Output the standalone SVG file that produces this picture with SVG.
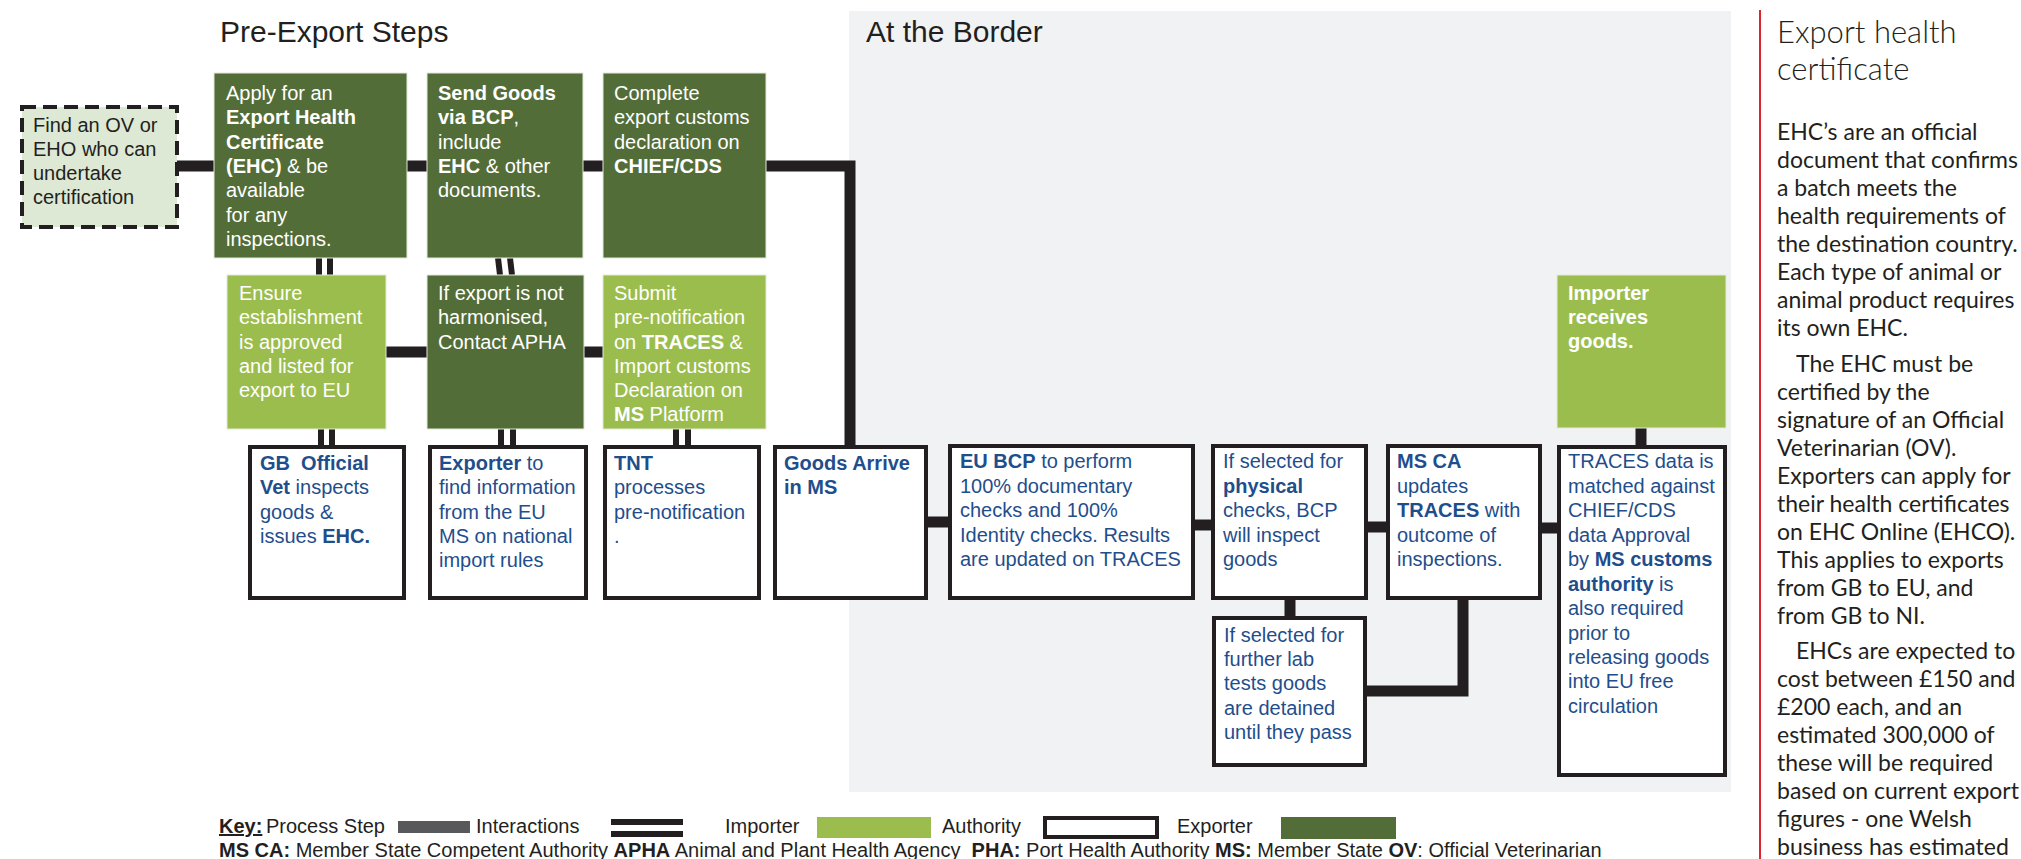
<svg xmlns="http://www.w3.org/2000/svg" width="2021" height="859" viewBox="0 0 2021 859">
<style>
.t{font-family:"Liberation Sans",Arial,sans-serif;font-size:20px}
.bd{font-weight:bold}
.wt{fill:#ffffff}
.bt{fill:#1f4e8c}
.kt{fill:#231f20}
.dg{fill:#536d38;stroke:#e3ead9;stroke-width:1}
.lg{fill:#9bbd4e;stroke:#e3ead9;stroke-width:1}
.wb{fill:#ffffff;stroke:#231f20;stroke-width:4}
.c{stroke:#231f20;stroke-width:11;fill:none}
.d{stroke:#231f20;stroke-width:6;fill:none}
.ttl{font-family:"Liberation Sans",Arial,sans-serif;font-size:30px;fill:#231f20}
.side{font-family:Lato,"Liberation Sans",sans-serif;fill:#231f20}
</style>
<rect width="2021" height="859" fill="#ffffff"/>
<rect id="border-panel" x="849" y="11" width="882" height="781" fill="#f1f2f4"/>
<text class="ttl" x="220" y="42">Pre-Export Steps</text>
<text class="ttl" x="866" y="42">At the Border</text>

<g id="connectors">
<path class="c" d="M177 166H214 M407 166H427 M583 166H603 M766 166H850V445 M386 352H427 M584 352H603 M928 522H948 M1195 525H1211 M1368 527H1386 M1542 528H1557 M1641 428V445 M1290 600V616 M1463 600V691H1366"/>
<path class="d" d="M319 258V275 M330 258V275 M498 258L500 275 M510 258L512 275 M321 429V445 M332 429V445 M501 429V445 M513 429V445 M676 429V445 M688 429V445"/>
</g>

<g id="find-ov">
<rect x="22" y="107" width="155" height="120" fill="#dde9d5" stroke="#231f20" stroke-width="4" stroke-dasharray="14 7"/>
<text class="t kt"><tspan x="33" y="132">Find an OV or</tspan><tspan x="33" y="156">EHO who can</tspan><tspan x="33" y="180">undertake</tspan><tspan x="33" y="204">certification</tspan></text>
</g>

<g id="apply-ehc">
<rect class="dg" x="214" y="73" width="193" height="185"/>
<text class="t wt"><tspan x="226" y="100">Apply for an</tspan><tspan x="226" y="124" class="bd">Export Health</tspan><tspan x="226" y="149" class="bd">Certificate</tspan><tspan x="226" y="173"><tspan class="bd">(EHC)</tspan> &amp; be</tspan><tspan x="226" y="197">available</tspan><tspan x="226" y="222">for any</tspan><tspan x="226" y="246">inspections.</tspan></text>
</g>

<g id="send-goods">
<rect class="dg" x="427" y="73" width="156" height="185"/>
<text class="t wt"><tspan x="438" y="100" class="bd">Send Goods</tspan><tspan x="438" y="124"><tspan class="bd">via BCP</tspan>,</tspan><tspan x="438" y="149">include</tspan><tspan x="438" y="173"><tspan class="bd">EHC</tspan> &amp; other</tspan><tspan x="438" y="197">documents.</tspan></text>
</g>

<g id="complete-customs">
<rect class="dg" x="603" y="73" width="163" height="185"/>
<text class="t wt"><tspan x="614" y="100">Complete</tspan><tspan x="614" y="124">export customs</tspan><tspan x="614" y="149">declaration on</tspan><tspan x="614" y="173" class="bd">CHIEF/CDS</tspan></text>
</g>

<g id="ensure-establishment">
<rect class="lg" x="227" y="275" width="159" height="154"/>
<text class="t wt"><tspan x="239" y="300">Ensure</tspan><tspan x="239" y="324">establishment</tspan><tspan x="239" y="349">is approved</tspan><tspan x="239" y="373">and listed for</tspan><tspan x="239" y="397">export to EU</tspan></text>
</g>

<g id="contact-apha">
<rect class="dg" x="427" y="275" width="157" height="154"/>
<text class="t wt"><tspan x="438" y="300">If export is not</tspan><tspan x="438" y="324">harmonised,</tspan><tspan x="438" y="349">Contact APHA</tspan></text>
</g>

<g id="submit-prenotification">
<rect class="lg" x="603" y="275" width="163" height="154"/>
<text class="t wt"><tspan x="614" y="300">Submit</tspan><tspan x="614" y="324">pre-notification</tspan><tspan x="614" y="349">on <tspan class="bd">TRACES</tspan> &amp;</tspan><tspan x="614" y="373">Import customs</tspan><tspan x="614" y="397">Declaration on</tspan><tspan x="614" y="421"><tspan class="bd">MS</tspan> Platform</tspan></text>
</g>

<g id="importer-receives">
<rect class="lg" x="1557" y="275" width="169" height="153"/>
<text class="t wt bd"><tspan x="1568" y="300">Importer</tspan><tspan x="1568" y="324">receives</tspan><tspan x="1568" y="348">goods.</tspan></text>
</g>

<g id="gb-vet">
<rect class="wb" x="250" y="447" width="154" height="151"/>
<text class="t bt"><tspan x="260" y="470" class="bd">GB&#160; Official</tspan><tspan x="260" y="494"><tspan class="bd">Vet</tspan> inspects</tspan><tspan x="260" y="519">goods &amp;</tspan><tspan x="260" y="543">issues <tspan class="bd">EHC.</tspan></tspan></text>
</g>

<g id="exporter-info">
<rect class="wb" x="430" y="447" width="156" height="151"/>
<text class="t bt"><tspan x="439" y="470"><tspan class="bd">Exporter</tspan> to</tspan><tspan x="439" y="494">find information</tspan><tspan x="439" y="519">from the EU</tspan><tspan x="439" y="543">MS on national</tspan><tspan x="439" y="567">import rules</tspan></text>
</g>

<g id="tnt">
<rect class="wb" x="605" y="447" width="154" height="151"/>
<text class="t bt"><tspan x="614" y="470" class="bd">TNT</tspan><tspan x="614" y="494">processes</tspan><tspan x="614" y="519">pre-notification</tspan><tspan x="614" y="543">.</tspan></text>
</g>

<g id="goods-arrive">
<rect class="wb" x="775" y="447" width="151" height="151"/>
<text class="t bt bd"><tspan x="784" y="470">Goods Arrive</tspan><tspan x="784" y="494">in MS</tspan></text>
</g>

<g id="eu-bcp">
<rect class="wb" x="950" y="446" width="243" height="152"/>
<text class="t bt"><tspan x="960" y="468"><tspan class="bd">EU BCP</tspan> to perform</tspan><tspan x="960" y="493">100% documentary</tspan><tspan x="960" y="517">checks and 100%</tspan><tspan x="960" y="542">Identity checks. Results</tspan><tspan x="960" y="566">are updated on TRACES</tspan></text>
</g>

<g id="physical-checks">
<rect class="wb" x="1213" y="446" width="153" height="152"/>
<text class="t bt"><tspan x="1223" y="468">If selected for</tspan><tspan x="1223" y="493" class="bd">physical</tspan><tspan x="1223" y="517">checks, BCP</tspan><tspan x="1223" y="542">will inspect</tspan><tspan x="1223" y="566">goods</tspan></text>
</g>

<g id="lab-tests">
<rect class="wb" x="1214" y="618" width="151" height="147"/>
<text class="t bt"><tspan x="1224" y="642">If selected for</tspan><tspan x="1224" y="666">further lab</tspan><tspan x="1224" y="690">tests goods</tspan><tspan x="1224" y="715">are detained</tspan><tspan x="1224" y="739">until they pass</tspan></text>
</g>

<g id="ms-ca">
<rect class="wb" x="1388" y="446" width="152" height="152"/>
<text class="t bt"><tspan x="1397" y="468" class="bd">MS CA</tspan><tspan x="1397" y="493">updates</tspan><tspan x="1397" y="517"><tspan class="bd">TRACES</tspan> with</tspan><tspan x="1397" y="542">outcome of</tspan><tspan x="1397" y="566">inspections.</tspan></text>
</g>

<g id="traces-matched">
<rect class="wb" x="1559" y="447" width="166" height="328"/>
<text class="t bt"><tspan x="1568" y="468">TRACES data is</tspan><tspan x="1568" y="493">matched against</tspan><tspan x="1568" y="517">CHIEF/CDS</tspan><tspan x="1568" y="542">data Approval</tspan><tspan x="1568" y="566">by <tspan class="bd">MS customs</tspan></tspan><tspan x="1568" y="591"><tspan class="bd">authority</tspan> is</tspan><tspan x="1568" y="615">also required</tspan><tspan x="1568" y="640">prior to</tspan><tspan x="1568" y="664">releasing goods</tspan><tspan x="1568" y="688">into EU free</tspan><tspan x="1568" y="713">circulation</tspan></text>
</g>

<g id="key">
<text class="t kt bd" x="219" y="833" text-decoration="underline">Key:</text>
<text class="t kt" x="266" y="833">Process Step</text>
<rect x="398" y="821" width="72" height="12" fill="#58595b"/>
<text class="t kt" x="476" y="833">Interactions</text>
<rect x="611" y="819" width="72" height="6" fill="#231f20"/>
<rect x="611" y="831" width="72" height="6" fill="#231f20"/>
<text class="t kt" x="725" y="833">Importer</text>
<rect x="817" y="817" width="114" height="21" fill="#9bbd4e"/>
<text class="t kt" x="942" y="833">Authority</text>
<rect x="1045" y="818" width="112" height="19" fill="#ffffff" stroke="#231f20" stroke-width="4"/>
<text class="t kt" x="1177" y="833">Exporter</text>
<rect x="1281" y="817" width="115" height="22" fill="#536d38"/>
<text class="t kt" x="219" y="857"><tspan class="bd">MS CA:</tspan> Member State Competent Authority <tspan class="bd">APHA</tspan> Animal and Plant Health Agency&#160; <tspan class="bd">PHA:</tspan> Port Health Authority <tspan class="bd">MS:</tspan> Member State <tspan class="bd">OV</tspan>: Official Veterinarian</text>
</g>

<line x1="1760" y1="10" x2="1760" y2="859" stroke="#d9262e" stroke-width="2"/>
<g id="sidebar">
<text class="side" font-size="31" font-weight="300"><tspan x="1777" y="43">Export health</tspan><tspan x="1777" y="80">certificate</tspan></text>
<text class="side" font-size="23">
<tspan x="1777" y="140">EHC’s are an official</tspan>
<tspan x="1777" y="168">document that confirms</tspan>
<tspan x="1777" y="196">a batch meets the</tspan>
<tspan x="1777" y="224">health requirements of</tspan>
<tspan x="1777" y="252">the destination country.</tspan>
<tspan x="1777" y="280">Each type of animal or</tspan>
<tspan x="1777" y="308">animal product requires</tspan>
<tspan x="1777" y="336">its own EHC.</tspan>
<tspan x="1796" y="372">The EHC must be</tspan>
<tspan x="1777" y="400">certified by the</tspan>
<tspan x="1777" y="428">signature of an Official</tspan>
<tspan x="1777" y="456">Veterinarian (OV).</tspan>
<tspan x="1777" y="484">Exporters can apply for</tspan>
<tspan x="1777" y="512">their health certificates</tspan>
<tspan x="1777" y="540">on EHC Online (EHCO).</tspan>
<tspan x="1777" y="568">This applies to exports</tspan>
<tspan x="1777" y="596">from GB to EU, and</tspan>
<tspan x="1777" y="624">from GB to NI.</tspan>
<tspan x="1796" y="659">EHCs are expected to</tspan>
<tspan x="1777" y="687">cost between £150 and</tspan>
<tspan x="1777" y="715">£200 each, and an</tspan>
<tspan x="1777" y="743">estimated 300,000 of</tspan>
<tspan x="1777" y="771">these will be required</tspan>
<tspan x="1777" y="799">based on current export</tspan>
<tspan x="1777" y="827">figures - one Welsh</tspan>
<tspan x="1777" y="855">business has estimated</tspan>
</text>
</g>
</svg>
